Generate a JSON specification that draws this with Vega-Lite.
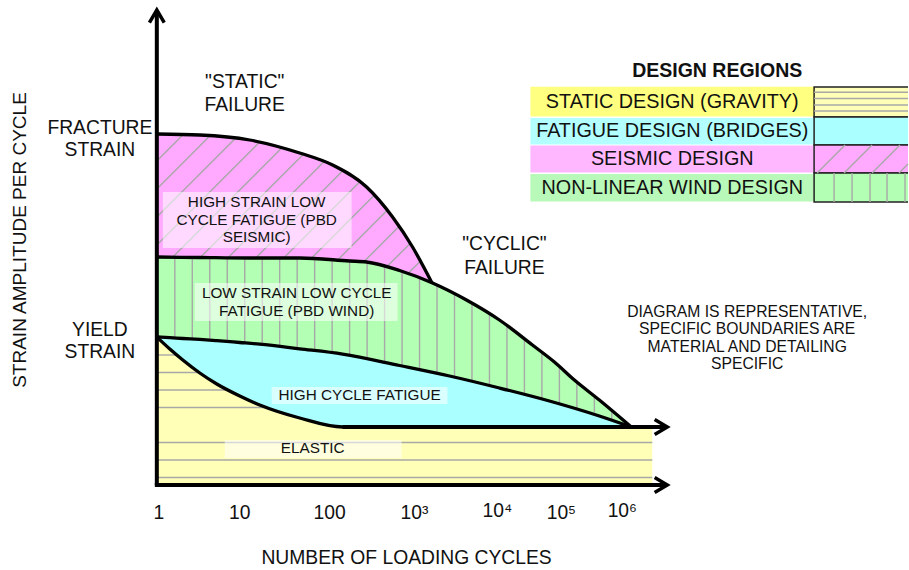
{
  "$schema": "https://vega.github.io/schema/vega-lite/v6.json",
  "width": 909,
  "height": 570,
  "autosize": {"type": "fit", "contains": "padding"},
  "padding": 0,
  "background": "white",
  "config": {"view": {"stroke": null}},
  "datasets": {
    "regions": [
      {"fill": "static", "x": 15.7, "y": 23.3, "y2": 8.5},
      {"fill": "static", "x": 17.0, "y": 22.1, "y2": 8.5},
      {"fill": "static", "x": 18.3, "y": 21.0, "y2": 8.5},
      {"fill": "static", "x": 20.0, "y": 19.7, "y2": 8.5},
      {"fill": "static", "x": 21.7, "y": 18.6, "y2": 8.5},
      {"fill": "static", "x": 24.0, "y": 17.4, "y2": 8.5},
      {"fill": "static", "x": 26.0, "y": 16.5, "y2": 8.5},
      {"fill": "static", "x": 30.0, "y": 15.2, "y2": 8.5},
      {"fill": "static", "x": 34.3, "y": 14.3, "y2": 8.5},
      {"fill": "static", "x": 65.3, "y": 14.3, "y2": 8.5},
      {"fill": "fatigue", "x": 15.7, "y": 23.3, "y2": 23.3},
      {"fill": "fatigue", "x": 17.0, "y": 23.23, "y2": 22.1},
      {"fill": "fatigue", "x": 18.3, "y": 23.15, "y2": 21.0},
      {"fill": "fatigue", "x": 20.0, "y": 23.06, "y2": 19.7},
      {"fill": "fatigue", "x": 21.7, "y": 22.94, "y2": 18.6},
      {"fill": "fatigue", "x": 24.0, "y": 22.75, "y2": 17.4},
      {"fill": "fatigue", "x": 26.0, "y": 22.58, "y2": 16.5},
      {"fill": "fatigue", "x": 30.0, "y": 22.12, "y2": 15.2},
      {"fill": "fatigue", "x": 34.3, "y": 21.59, "y2": 14.3},
      {"fill": "fatigue", "x": 40.0, "y": 20.45, "y2": 14.3},
      {"fill": "fatigue", "x": 45.0, "y": 19.4, "y2": 14.3},
      {"fill": "fatigue", "x": 50.0, "y": 18.2, "y2": 14.3},
      {"fill": "fatigue", "x": 55.0, "y": 16.9, "y2": 14.3},
      {"fill": "fatigue", "x": 60.0, "y": 15.4, "y2": 14.3},
      {"fill": "fatigue", "x": 63.2, "y": 14.3, "y2": 14.3},
      {"fill": "wind", "x": 15.7, "y": 31.3, "y2": 23.3},
      {"fill": "wind", "x": 20.0, "y": 31.25, "y2": 23.06},
      {"fill": "wind", "x": 25.0, "y": 31.2, "y2": 22.67},
      {"fill": "wind", "x": 30.0, "y": 31.2, "y2": 22.12},
      {"fill": "wind", "x": 35.0, "y": 30.9, "y2": 21.5},
      {"fill": "wind", "x": 36.7, "y": 30.8, "y2": 21.14},
      {"fill": "wind", "x": 40.0, "y": 29.95, "y2": 20.45},
      {"fill": "wind", "x": 43.3, "y": 28.7, "y2": 19.76},
      {"fill": "wind", "x": 46.7, "y": 27.0, "y2": 18.99},
      {"fill": "wind", "x": 50.0, "y": 25.0, "y2": 18.2},
      {"fill": "wind", "x": 53.3, "y": 22.5, "y2": 17.34},
      {"fill": "wind", "x": 55.5, "y": 20.8, "y2": 16.75},
      {"fill": "wind", "x": 57.5, "y": 19.0, "y2": 16.22},
      {"fill": "wind", "x": 60.0, "y": 17.0, "y2": 15.4},
      {"fill": "wind", "x": 63.2, "y": 14.3, "y2": 14.3},
      {"fill": "seismic", "x": 15.7, "y": 43.6, "y2": 31.3},
      {"fill": "seismic", "x": 20.0, "y": 43.5, "y2": 31.25},
      {"fill": "seismic", "x": 25.0, "y": 43.0, "y2": 31.2},
      {"fill": "seismic", "x": 30.0, "y": 41.7, "y2": 31.2},
      {"fill": "seismic", "x": 33.3, "y": 40.5, "y2": 31.0},
      {"fill": "seismic", "x": 36.7, "y": 38.3, "y2": 30.8},
      {"fill": "seismic", "x": 39.3, "y": 35.3, "y2": 30.13},
      {"fill": "seismic", "x": 41.3, "y": 32.3, "y2": 29.57},
      {"fill": "seismic", "x": 43.2, "y": 28.8, "y2": 28.74}
    ],
    "legend": [
      {"part": "label", "fill": "static-label", "x": 53.1, "x2": 81.5, "y": 48.33, "y2": 45.35},
      {"part": "label", "fill": "fatigue-label", "x": 53.1, "x2": 81.5, "y": 45.2, "y2": 42.55},
      {"part": "label", "fill": "seismic-label", "x": 53.1, "x2": 81.5, "y": 42.45, "y2": 39.75},
      {"part": "label", "fill": "wind-label", "x": 53.1, "x2": 81.5, "y": 39.6, "y2": 36.85},
      {"part": "swatch", "fill": "static", "x": 81.5, "x2": 91.5, "y": 48.3, "y2": 45.3},
      {"part": "swatch", "fill": "fatigue", "x": 81.5, "x2": 91.5, "y": 45.3, "y2": 42.5},
      {"part": "swatch", "fill": "seismic", "x": 81.5, "x2": 91.5, "y": 42.5, "y2": 39.7},
      {"part": "swatch", "fill": "wind", "x": 81.5, "x2": 91.5, "y": 39.7, "y2": 36.8}
    ],
    "hatch": [
      {"x": 15.7, "y": 21.5, "x2": 17.7, "y2": 21.5},
      {"x": 15.7, "y": 19.75, "x2": 19.93, "y2": 19.75},
      {"x": 15.7, "y": 18.0, "x2": 22.85, "y2": 18.0},
      {"x": 15.7, "y": 16.25, "x2": 26.77, "y2": 16.25},
      {"x": 15.7, "y": 12.75, "x2": 65.3, "y2": 12.75},
      {"x": 15.7, "y": 11.0, "x2": 65.3, "y2": 11.0},
      {"x": 15.7, "y": 9.25, "x2": 65.3, "y2": 9.25},
      {"x": 17.5, "y": 31.28, "x2": 17.5, "y2": 23.2},
      {"x": 19.25, "y": 31.26, "x2": 19.25, "y2": 23.1},
      {"x": 21.0, "y": 31.24, "x2": 21.0, "y2": 23.0},
      {"x": 22.75, "y": 31.22, "x2": 22.75, "y2": 22.85},
      {"x": 24.5, "y": 31.2, "x2": 24.5, "y2": 22.71},
      {"x": 26.25, "y": 31.2, "x2": 26.25, "y2": 22.56},
      {"x": 28.0, "y": 31.2, "x2": 28.0, "y2": 22.38},
      {"x": 29.75, "y": 31.2, "x2": 29.75, "y2": 22.16},
      {"x": 31.5, "y": 31.11, "x2": 31.5, "y2": 21.94},
      {"x": 33.25, "y": 31.01, "x2": 33.25, "y2": 21.72},
      {"x": 35.0, "y": 30.9, "x2": 35.0, "y2": 21.5},
      {"x": 36.75, "y": 30.79, "x2": 36.75, "y2": 21.13},
      {"x": 38.5, "y": 30.34, "x2": 38.5, "y2": 20.76},
      {"x": 40.25, "y": 29.89, "x2": 40.25, "y2": 20.4},
      {"x": 42.0, "y": 29.27, "x2": 42.0, "y2": 20.03},
      {"x": 43.75, "y": 28.47, "x2": 43.75, "y2": 19.66},
      {"x": 45.5, "y": 27.6, "x2": 45.5, "y2": 19.25},
      {"x": 47.25, "y": 26.67, "x2": 47.25, "y2": 18.86},
      {"x": 49.0, "y": 25.6, "x2": 49.0, "y2": 18.44},
      {"x": 50.75, "y": 24.43, "x2": 50.75, "y2": 18.0},
      {"x": 52.5, "y": 23.1, "x2": 52.5, "y2": 17.55},
      {"x": 54.25, "y": 21.77, "x2": 54.25, "y2": 17.1},
      {"x": 56.0, "y": 20.35, "x2": 56.0, "y2": 16.66},
      {"x": 57.75, "y": 18.8, "x2": 57.75, "y2": 16.2},
      {"x": 59.5, "y": 17.4, "x2": 59.5, "y2": 15.75},
      {"x": 61.25, "y": 15.95, "x2": 61.25, "y2": 14.97},
      {"x": 15.7, "y": 40.9, "x2": 18.34, "y2": 43.54},
      {"x": 15.7, "y": 38.1, "x2": 21.0, "y2": 43.4},
      {"x": 15.7, "y": 35.3, "x2": 23.55, "y2": 43.15},
      {"x": 15.7, "y": 32.5, "x2": 25.95, "y2": 42.75},
      {"x": 17.28, "y": 31.28, "x2": 28.17, "y2": 42.17},
      {"x": 20.05, "y": 31.25, "x2": 30.37, "y2": 41.57},
      {"x": 22.82, "y": 31.22, "x2": 32.42, "y2": 40.82},
      {"x": 25.6, "y": 31.2, "x2": 34.27, "y2": 39.87},
      {"x": 28.4, "y": 31.2, "x2": 35.97, "y2": 38.77},
      {"x": 31.13, "y": 31.13, "x2": 37.44, "y2": 37.44},
      {"x": 33.77, "y": 30.97, "x2": 38.74, "y2": 35.94},
      {"x": 36.42, "y": 30.82, "x2": 39.94, "y2": 34.34},
      {"x": 38.69, "y": 30.29, "x2": 41.06, "y2": 32.66},
      {"x": 40.92, "y": 29.72, "x2": 42.07, "y2": 30.87},
      {"x": 81.5, "y": 47.77, "x2": 90.9, "y2": 47.77},
      {"x": 81.5, "y": 47.15, "x2": 90.9, "y2": 47.15},
      {"x": 81.5, "y": 46.5, "x2": 90.9, "y2": 46.5},
      {"x": 81.5, "y": 45.9, "x2": 90.9, "y2": 45.9},
      {"x": 83.5, "y": 39.7, "x2": 83.5, "y2": 36.8},
      {"x": 85.3, "y": 39.7, "x2": 85.3, "y2": 36.8},
      {"x": 87.1, "y": 39.7, "x2": 87.1, "y2": 36.8},
      {"x": 88.8, "y": 39.7, "x2": 88.8, "y2": 36.8},
      {"x": 90.6, "y": 39.7, "x2": 90.6, "y2": 36.8},
      {"x": 81.8, "y": 39.7, "x2": 84.6, "y2": 42.5},
      {"x": 84.5, "y": 39.7, "x2": 87.3, "y2": 42.5},
      {"x": 87.3, "y": 39.7, "x2": 90.1, "y2": 42.5},
      {"x": 90.0, "y": 39.7, "x2": 90.9, "y2": 40.6}
    ],
    "boxes": [
      {"x": 16.3, "x2": 35.2, "y": 37.8, "y2": 32.2},
      {"x": 19.5, "x2": 39.8, "y": 28.7, "y2": 24.9},
      {"x": 27.2, "x2": 44.8, "y": 18.3, "y2": 16.6},
      {"x": 22.5, "x2": 40.2, "y": 13.0, "y2": 11.2}
    ],
    "axes": [
      {"x": 15.7, "y": 8.5, "x2": 15.7, "y2": 55.9},
      {"x": 15.5, "y": 8.5, "x2": 66.7, "y2": 8.5},
      {"x": 34.3, "y": 14.3, "x2": 66.7, "y2": 14.3}
    ],
    "arrows": [
      {"x": 66.8, "y": 14.3, "dir": "right"},
      {"x": 66.8, "y": 8.5, "dir": "right"},
      {"x": 15.7, "y": 56.0, "dir": "up"}
    ],
    "texts": [
      {"kind": "big", "x": 24.5, "y": 48.8, "text": "\"STATIC\""},
      {"kind": "big", "x": 24.5, "y": 46.5, "text": "FAILURE"},
      {"kind": "big", "x": 50.5, "y": 32.6, "text": "\"CYCLIC\""},
      {"kind": "big", "x": 50.5, "y": 30.25, "text": "FAILURE"},
      {"kind": "big", "x": 10.0, "y": 44.2, "text": "FRACTURE"},
      {"kind": "big", "x": 10.0, "y": 42.0, "text": "STRAIN"},
      {"kind": "big", "x": 10.0, "y": 24.0, "text": "YIELD"},
      {"kind": "big", "x": 10.0, "y": 21.8, "text": "STRAIN"},
      {"kind": "big", "x": 15.9, "y": 5.7, "text": "1"},
      {"kind": "big", "x": 24.0, "y": 5.7, "text": "10"},
      {"kind": "big", "x": 33.0, "y": 5.7, "text": "100"},
      {"kind": "big", "x": 41.5, "y": 5.7, "text": "10³"},
      {"kind": "big", "x": 49.8, "y": 5.95, "text": "10⁴"},
      {"kind": "big", "x": 56.2, "y": 5.7, "text": "10⁵"},
      {"kind": "big", "x": 62.3, "y": 5.95, "text": "10⁶"},
      {"kind": "big", "x": 40.7, "y": 1.2, "text": "NUMBER OF LOADING CYCLES"},
      {"kind": "legend", "x": 67.3, "y": 46.8, "text": "STATIC DESIGN (GRAVITY)"},
      {"kind": "legend", "x": 67.3, "y": 43.9, "text": "FATIGUE DESIGN (BRIDGES)"},
      {"kind": "legend", "x": 67.3, "y": 41.1, "text": "SEISMIC DESIGN"},
      {"kind": "legend", "x": 67.3, "y": 38.25, "text": "NON-LINEAR WIND DESIGN"},
      {"kind": "ytitle", "x": 2.0, "y": 33.0, "text": "STRAIN AMPLITUDE PER CYCLE"},
      {"kind": "title", "x": 71.8, "y": 49.9, "text": "DESIGN REGIONS"},
      {"kind": "region", "x": 25.7, "y": 36.8, "text": "HIGH STRAIN LOW"},
      {"kind": "region", "x": 25.7, "y": 35.05, "text": "CYCLE FATIGUE (PBD"},
      {"kind": "region", "x": 25.7, "y": 33.3, "text": "SEISMIC)"},
      {"kind": "region", "x": 29.7, "y": 27.7, "text": "LOW STRAIN LOW CYCLE"},
      {"kind": "region", "x": 29.7, "y": 25.9, "text": "FATIGUE (PBD WIND)"},
      {"kind": "region", "x": 36.0, "y": 17.5, "text": "HIGH CYCLE FATIGUE"},
      {"kind": "region", "x": 31.3, "y": 12.2, "text": "ELASTIC"},
      {"kind": "note", "x": 74.8, "y": 25.8, "text": "DIAGRAM IS REPRESENTATIVE,"},
      {"kind": "note", "x": 74.8, "y": 24.1, "text": "SPECIFIC BOUNDARIES ARE"},
      {"kind": "note", "x": 74.8, "y": 22.35, "text": "MATERIAL AND DETAILING"},
      {"kind": "note", "x": 74.8, "y": 20.65, "text": "SPECIFIC"}
    ]
  },
  "encoding": {
    "x": {"field": "x", "type": "quantitative", "scale": {"domain": [0, 90.9], "nice": false, "zero": false}, "axis": null},
    "y": {"field": "y", "type": "quantitative", "scale": {"domain": [0, 57], "nice": false, "zero": false}, "axis": null}
  },
  "layer": [
    {
      "data": {"name": "regions"},
      "mark": {"type": "area", "interpolate": "monotone", "opacity": 1},
      "encoding": {
        "y2": {"field": "y2"},
        "color": {
          "field": "fill", "type": "nominal", "legend": null,
          "scale": {
            "domain": ["static", "fatigue", "seismic", "wind", "static-label", "fatigue-label", "seismic-label", "wind-label"],
            "range": ["#FFFFB8", "#AAFFFF", "#FFAAFF", "#B3FFB3", "#FFFF80", "#B3FFFF", "#FFB8FF", "#B8F8B8"]
          }
        }
      }
    },
    {
      "data": {"name": "legend"},
      "transform": [{"filter": "datum.part === 'label'"}],
      "mark": {"type": "rect", "opacity": 1},
      "encoding": {
        "x2": {"field": "x2"},
        "y2": {"field": "y2"},
        "color": {"field": "fill", "type": "nominal", "legend": null}
      }
    },
    {
      "data": {"name": "legend"},
      "transform": [{"filter": "datum.part === 'swatch'"}],
      "mark": {"type": "rect", "opacity": 1, "stroke": "#222", "strokeWidth": 1.5, "clip": true},
      "encoding": {
        "x2": {"field": "x2"},
        "y2": {"field": "y2"},
        "color": {"field": "fill", "type": "nominal", "legend": null}
      }
    },
    {
      "data": {"name": "hatch"},
      "mark": {"type": "rule", "color": "#A8A8A8", "strokeWidth": 1.4},
      "encoding": {"x2": {"field": "x2"}, "y2": {"field": "y2"}}
    },
    {
      "data": {"name": "regions"},
      "mark": {"type": "line", "interpolate": "monotone", "color": "black", "strokeWidth": 3.3, "strokeCap": "round", "strokeJoin": "round"},
      "encoding": {"detail": {"field": "fill", "type": "nominal"}}
    },
    {
      "data": {"name": "boxes"},
      "mark": {"type": "rect", "color": "white", "opacity": 0.55},
      "encoding": {"x2": {"field": "x2"}, "y2": {"field": "y2"}}
    },
    {
      "data": {"name": "axes"},
      "mark": {"type": "rule", "color": "black", "strokeWidth": 4},
      "encoding": {"x2": {"field": "x2"}, "y2": {"field": "y2"}}
    },
    {
      "data": {"name": "arrows"},
      "mark": {"type": "point", "filled": false, "stroke": "black", "strokeWidth": 3.5, "opacity": 1, "size": 220, "strokeJoin": "miter"},
      "encoding": {
        "shape": {
          "field": "dir", "type": "nominal", "legend": null,
          "scale": {"domain": ["right", "up"], "range": ["M -1.7 -1 L 0 0 L -1.7 1", "M -1 1.7 L 0 0 L 1 1.7"]}
        }
      }
    },
    {
      "data": {"name": "texts"},
      "transform": [{"filter": "datum.kind === 'big'"}],
      "mark": {"type": "text", "font": "Liberation Sans", "fontSize": 19.3, "color": "#111", "align": "center", "baseline": "middle"},
      "encoding": {"text": {"field": "text"}}
    },
    {
      "data": {"name": "texts"},
      "transform": [{"filter": "datum.kind === 'legend'"}],
      "mark": {"type": "text", "font": "Liberation Sans", "fontSize": 19.8, "color": "#111", "align": "center", "baseline": "middle"},
      "encoding": {"text": {"field": "text"}}
    },
    {
      "data": {"name": "texts"},
      "transform": [{"filter": "datum.kind === 'ytitle'"}],
      "mark": {"type": "text", "font": "Liberation Sans", "fontSize": 19, "color": "#111", "align": "center", "baseline": "middle", "angle": 270},
      "encoding": {"text": {"field": "text"}}
    },
    {
      "data": {"name": "texts"},
      "transform": [{"filter": "datum.kind === 'title'"}],
      "mark": {"type": "text", "font": "Liberation Sans", "fontSize": 19.5, "fontWeight": "bold", "color": "#111", "align": "center", "baseline": "middle"},
      "encoding": {"text": {"field": "text"}}
    },
    {
      "data": {"name": "texts"},
      "transform": [{"filter": "datum.kind === 'region'"}],
      "mark": {"type": "text", "font": "Liberation Sans", "fontSize": 15.3, "color": "#111", "align": "center", "baseline": "middle"},
      "encoding": {"text": {"field": "text"}}
    },
    {
      "data": {"name": "texts"},
      "transform": [{"filter": "datum.kind === 'note'"}],
      "mark": {"type": "text", "font": "Liberation Sans", "fontSize": 15.7, "color": "#111", "align": "center", "baseline": "middle"},
      "encoding": {"text": {"field": "text"}}
    }
  ]
}
